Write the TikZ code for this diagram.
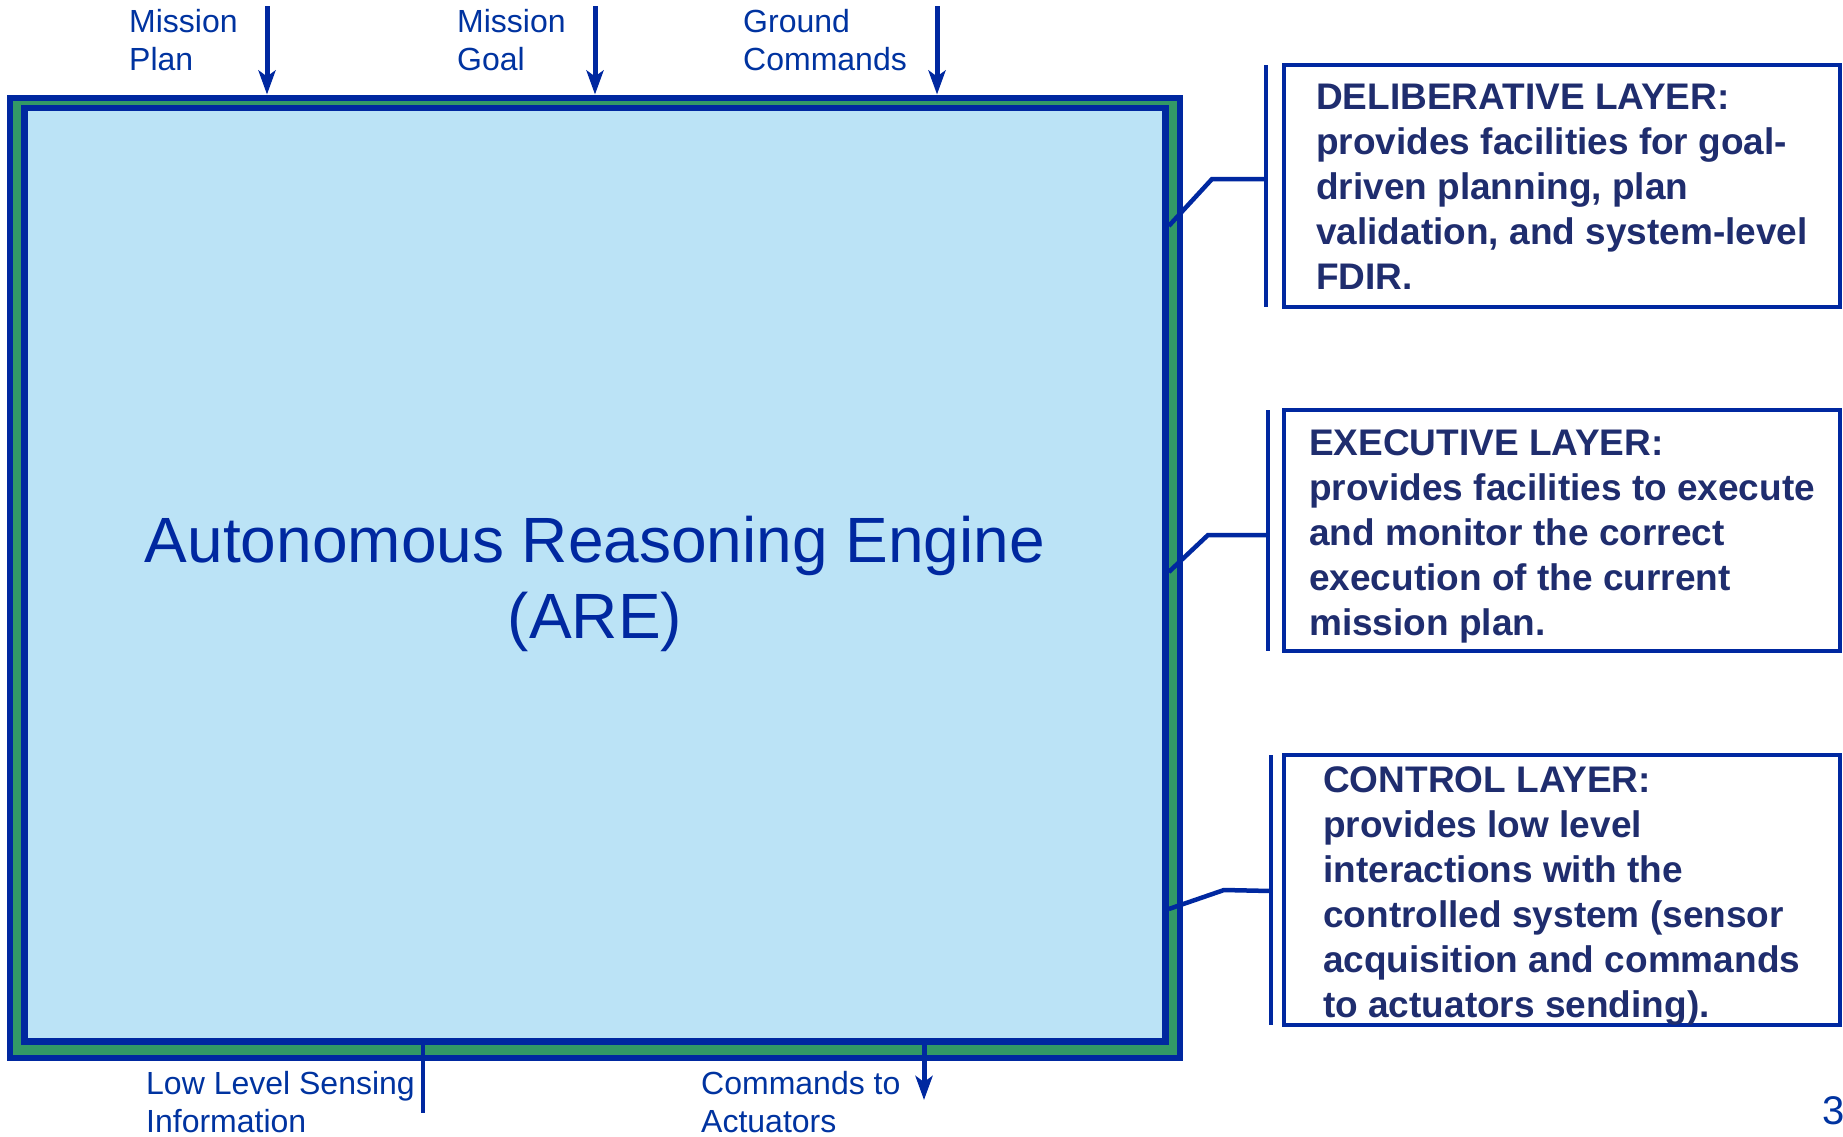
\documentclass[tikz,border=0pt]{standalone}
\usepackage{fontspec}
\setmainfont{Liberation Sans}
\usetikzlibrary{arrows.meta,positioning}
\definecolor{areblue}{RGB}{0,40,160}
\definecolor{labelblue}{RGB}{0,51,160}
\definecolor{layernavy}{RGB}{31,45,110}
\definecolor{framegreen}{RGB}{51,153,102}
\definecolor{arefill}{RGB}{187,227,246}

\begin{document}
\begin{tikzpicture}[
  x=1pt, y=-1pt,
  outerframe/.style={draw=areblue, line width=6pt, fill=framegreen, inner sep=0pt},
  engine/.style={draw=areblue, line width=6.5pt, fill=arefill, inner sep=0pt},
  enginetitle/.style={text=areblue, align=center, inner sep=0pt, font=\fontsize{64}{76}\selectfont},
  io/.style={text=labelblue, align=left, anchor=west, inner sep=0pt, font=\fontsize{32}{38}\selectfont},
  flow/.style={draw=areblue, line width=5pt, -{Stealth[length=24pt, width=17pt, inset=6pt]}},
  wire/.style={draw=areblue, line width=4.5pt},
  layerbox/.style={draw=areblue, line width=4.5pt, minimum width=556pt, outer sep=0pt},
  layertext/.style={text=layernavy, align=left, anchor=west, inner sep=0pt, font=\bfseries\fontsize{37}{45}\selectfont},
  link/.style={draw=areblue, line width=4.5pt, line join=miter}
]
\useasboundingbox (0,0) rectangle (1843,1136);
\fill[white] (0,0) rectangle (1843,1136);

% the engine
\node[outerframe, minimum width=1170pt, minimum height=960pt] (areframe) at (594.5,577.5) {};
\node[engine, minimum width=1141pt, minimum height=933.5pt] (are) at (595,574.75) {};
\node[enginetitle] (aretitle) at ([yshift=-9pt]are.center) {Autonomous Reasoning Engine\\(ARE)};

% inputs on top
\node[io] (planlabel) at (129,40) {Mission\\Plan};
\node[io] (goallabel) at (457,40) {Mission\\Goal};
\node[io] (groundlabel) at (743,40) {Ground\\Commands};
\coordinate (planin) at (267,6);
\coordinate (goalin) at (595,6);
\coordinate (groundin) at (937,6);
\draw[flow] (planin) -- (planin |- areframe.north);
\draw[flow] (goalin) -- (goalin |- areframe.north);
\draw[flow] (groundin) -- (groundin |- areframe.north);

% sensing and actuation below
\node[io] (senselabel) at (146,1102) {Low Level Sensing\\Information};
\node[io] (actlabel) at (701,1102) {Commands to\\Actuators};
\coordinate (senseend) at (423,1113);
\coordinate (actout) at (924,1100);
\draw[wire] (are.south -| senseend) -- (senseend);
\draw[flow] (are.south -| actout) -- (actout);

% layers
\node[layerbox, minimum height=242pt] (delibbox) at (1562,186) {};
\node[layertext, right=32pt of delibbox.west, yshift=-1pt] (delibtext) {DELIBERATIVE LAYER:\\provides facilities for goal-\\driven planning, plan\\validation, and system-level\\FDIR.};
\node[layerbox, minimum height=241pt] (execbox) at (1562,530.5) {};
\node[layertext, right=25pt of execbox.west, yshift=-5.5pt] (exectext) {EXECUTIVE LAYER:\\provides facilities to execute\\and monitor the correct\\execution of the current\\mission plan.};
\node[layerbox, minimum height=270pt] (ctrlbox) at (1562,890) {};
\node[layertext, right=39pt of ctrlbox.west, yshift=-6pt] (ctrltext) {CONTROL LAYER:\\provides low level\\interactions with the\\controlled system (sensor\\acquisition and commands\\to actuators sending).};

\coordinate (delibhook) at ([xshift=-18pt,yshift=7pt]delibbox.west);
\coordinate (exechook) at ([xshift=-16pt,yshift=-4.5pt]execbox.west);
\coordinate (ctrlhook) at ([xshift=-13pt,yshift=-1pt]ctrlbox.west);
\draw[wire] ([xshift=-18pt]delibbox.north west) -- ([xshift=-18pt]delibbox.south west);
\draw[wire] ([xshift=-16pt]execbox.north west) -- ([xshift=-16pt]execbox.south west);
\draw[wire] ([xshift=-13pt]ctrlbox.north west) -- ([xshift=-13pt]ctrlbox.south west);
\draw[link] (are.east |- 0,226) -- ([xshift=-54pt]delibhook) -- (delibhook);
\draw[link] (are.east |- 0,572) -- ([xshift=-60pt]exechook) -- (exechook);
\draw[link] (are.east |- 0,909) -- ([xshift=-47pt,yshift=1pt]ctrlhook) -- (ctrlhook);

\node[io, font=\fontsize{40}{48}\selectfont] (pageno) at (1822,1111) {3};
\end{tikzpicture}
\end{document}
